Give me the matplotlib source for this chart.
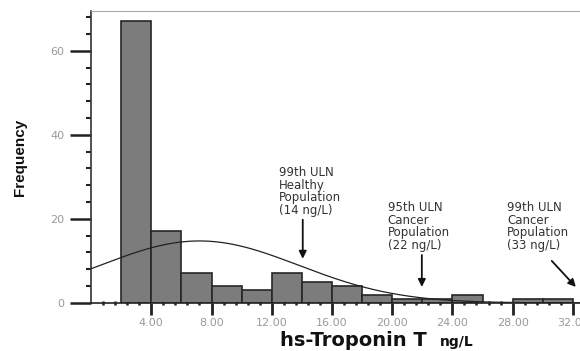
import numpy as np
import matplotlib
matplotlib.use("Agg")
import matplotlib.pyplot as plt

plt.rcParams['font.family'] = ['DejaVu Sans']

# histogram of hs-TnT, bins of 2 ng/L
bin_left = [2, 4, 6, 8, 10, 12, 14, 16, 18, 20, 22, 24, 28, 30]
counts = [67, 17, 7, 4, 3, 7, 5, 4, 2, 1, 1, 2, 1, 1]
bin_width = 2

# normal curve fitted over the histogram
fit_mean = 7.2
fit_sd = 6.6

xticks = [4, 8, 12, 16, 20, 24, 28, 32]
xticklabels = ["4.00", "8.00", "12.00", "16.00", "20.00", "24.00", "28.00", "32.00"]
yticks = [0, 20, 40, 60]

cutoff_labels = ["99th ULN\nHealthy\nPopulation\n(14 ng/L)",
                 "95th ULN\nCancer\nPopulation\n(22 ng/L)",
                 "99th ULN\nCancer\nPopulation\n(33 ng/L)"]
label_pos = [(12.5, 32.5), (19.7, 24.2), (27.65, 24.2)]
arrow_from = [(14.06, 19.8), (21.97, 11.4), (30.6, 10.0)]
arrow_to = [(14.06, 10.5), (21.97, 3.8), (32.2, 3.8)]

fig = plt.figure(figsize=(5.8, 3.51), dpi=100)
ax = fig.add_axes([0.157, 0.137, 0.86, 0.832])

ax.bar(bin_left, counts, width=bin_width, align='edge', color='#7c7c7c',
       edgecolor='#262626', linewidth=1.2, zorder=2)

n = sum(counts)
xs = np.linspace(0, 33.2, 300)
ys = n * bin_width * np.exp(-0.5 * ((xs - fit_mean) / fit_sd) ** 2) / (np.sqrt(2 * np.pi) * fit_sd)
ax.plot(xs, ys, color='#222222', lw=0.9, zorder=3)

ax.set_xlim(0, 33.13)
ax.set_ylim(0, 69.5)

ax.set_xticks(xticks)
ax.set_xticklabels(xticklabels)
ax.set_xticks(np.arange(0.8, 33.2, 0.8), minor=True)
ax.set_yticks(yticks)
ax.set_yticks(np.arange(0, 69, 4), minor=True)

ax.tick_params(axis='x', which='major', direction='out', length=8.6, width=2,
               color='#222222', labelsize=8, labelcolor='#999999', pad=2.5)
ax.tick_params(axis='x', which='minor', direction='inout', length=3, width=1.8,
               color='#222222')
ax.tick_params(axis='y', which='major', direction='out', length=15, width=1.8,
               color='#222222', labelsize=8, labelcolor='#999999', pad=4)
ax.tick_params(axis='y', which='minor', direction='out', length=3.5, width=1.5,
               color='#222222')

ax.spines['left'].set_color('#333333')
ax.spines['left'].set_linewidth(1.2)
ax.spines['bottom'].set_color('#222222')
ax.spines['bottom'].set_linewidth(1.2)
ax.spines['top'].set_color('#aaaaaa')
ax.spines['right'].set_visible(False)

ax.set_ylabel("Frequency", fontsize=11, fontweight='bold',
              family=['Liberation Sans', 'DejaVu Sans'], color='#111111')
ax.yaxis.set_label_coords(-0.128, 0.50)

fig.text(280 / 580, 0.014, "hs-Troponin T", fontsize=14, fontweight='bold',
         color='#111111', va='baseline')
fig.text(440 / 580, 0.014, "ng/L", fontsize=10, fontweight='bold',
         color='#111111', va='baseline')

# cut-off labels with their arrows
for txt, (tx, ty), p0, p1 in zip(cutoff_labels, label_pos, arrow_from, arrow_to):
    ax.text(tx, ty, txt, fontsize=8.5, color='#333333', ha='left', va='top',
            linespacing=0.95, clip_on=False)
    ax.annotate('', xy=p1, xytext=p0, annotation_clip=False,
                arrowprops=dict(arrowstyle='-|>', color='#111111', lw=1.3,
                                shrinkA=0, shrinkB=0, mutation_scale=11))

fig.savefig("out.png", dpi=100)
